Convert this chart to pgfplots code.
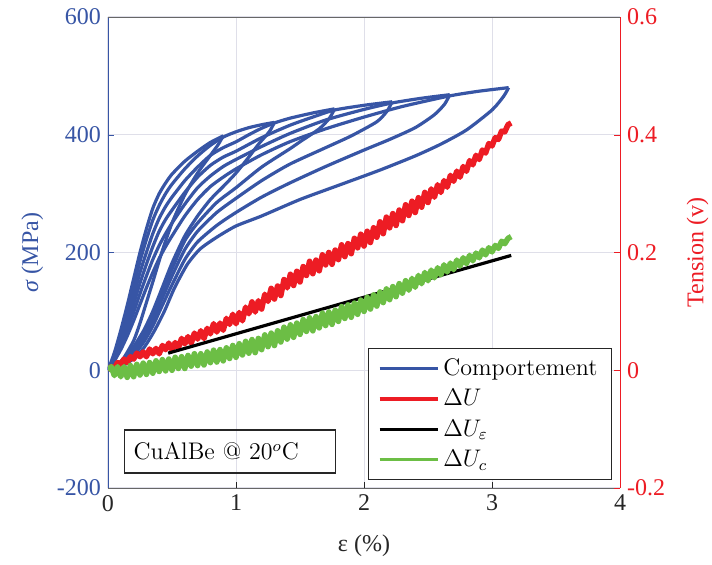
\documentclass[border=0pt]{standalone}
\usepackage{pgfplots}
\pgfplotsset{compat=1.18}
\usepackage{fontspec}
\newfontfamily\timesfont{Liberation Serif}
\definecolor{cblue}{RGB}{55,85,165}
\definecolor{cred}{RGB}{237,28,36}
\definecolor{cgreen}{RGB}{108,190,69}
\definecolor{cgrid}{RGB}{223,223,233}
\definecolor{cdark}{RGB}{38,38,38}

\begin{document}
\begin{tikzpicture}
\pgfplotsset{
  every axis/.append style={
    scale only axis, width=256pt, height=235.5pt,
    at={(0pt,0pt)}, anchor=south west,
    xmin=0, xmax=4,
    tick align=inside, major tick length=3pt,
    /pgf/number format/assume math mode=true,
    tick label style={font=\timesfont\fontsize{12}{14}\selectfont},
    label style={font=\timesfont\fontsize{12}{14}\selectfont},
  },
  loop/.style={cblue, no markers, line width=1.6pt, line join=round, smooth, tension=0.4},
  noisy/.style={no markers, line width=2.8pt, line join=round},
}
% stress-strain cycles (left axis)
\begin{axis}[
  axis x line*=bottom, axis y line*=left,
  ymin=-200, ymax=600, ytick={-200,0,200,400,600}, xtick={0,1,2,3,4},
  grid=major, major grid style={cgrid, line width=0.5pt},
  x axis line style={cdark!70}, y axis line style={cblue},
  xtick style={cdark}, ytick style={cblue},
  xticklabel style={text=cdark}, yticklabel style={text=cblue},
  xlabel={ε (\%)}, ylabel={\itshape σ\upshape\ (MPa)},
  xlabel style={text=cdark, yshift=-5pt}, ylabel style={text=cblue},
]
% cycle 1
\addplot[loop] coordinates {(0,0)(0.05,30)(0.1,68)(0.15,110)(0.2,155)(0.25,200)(0.3,240)(0.35,275)(0.4,300)(0.45,318)(0.5,333)(0.6,355)(0.7,372)(0.8,387)(0.9,398)};
\addplot[loop] coordinates {(0.9,398)(0.86,383)(0.8,365)(0.7,335)(0.6,298)(0.5,250)(0.42,200)(0.35,150)(0.3,115)(0.25,80)(0.2,50)(0.12,20)(0.05,5)};
% cycle 2
\addplot[loop] coordinates {(0,0)(0.05,25)(0.1,60)(0.15,100)(0.2,142)(0.25,185)(0.3,222)(0.35,255)(0.4,280)(0.45,300)(0.5,316)(0.6,342)(0.7,364)(0.8,382)(0.9,396)(1.0,405)(1.1,412)(1.2,417)(1.3,421)};
\addplot[loop] coordinates {(1.3,421)(1.26,405)(1.18,385)(1.1,362)(1.0,335)(0.9,312)(0.8,290)(0.7,262)(0.6,228)(0.5,182)(0.42,138)(0.35,100)(0.28,68)(0.2,40)(0.12,18)(0.05,4)};
% cycle 3
\addplot[loop] coordinates {(0,0)(0.05,22)(0.1,52)(0.15,88)(0.2,126)(0.25,166)(0.3,200)(0.35,232)(0.4,258)(0.45,278)(0.5,294)(0.6,322)(0.7,345)(0.8,365)(0.9,378)(1.0,388)(1.1,400)(1.2,411)(1.3,420)(1.42,428)(1.6,437)(1.77,444)};
\addplot[loop] coordinates {(1.77,444)(1.73,428)(1.65,410)(1.5,388)(1.42,376)(1.2,345)(1.0,310)(0.85,285)(0.7,250)(0.6,220)(0.5,172)(0.42,130)(0.35,92)(0.28,60)(0.2,34)(0.12,15)(0.05,3)};
% cycle 4
\addplot[loop] coordinates {(0,0)(0.05,20)(0.1,46)(0.15,78)(0.2,112)(0.25,148)(0.3,180)(0.35,210)(0.4,236)(0.45,256)(0.5,272)(0.6,302)(0.7,328)(0.8,348)(0.9,362)(1.0,372)(1.2,395)(1.42,416)(1.6,430)(1.77,442)(2.0,450)(2.22,456)};
\addplot[loop] coordinates {(2.22,456)(2.18,440)(2.1,422)(1.9,398)(1.7,378)(1.42,350)(1.2,322)(1.0,292)(0.85,268)(0.7,236)(0.6,205)(0.5,160)(0.42,120)(0.35,84)(0.28,55)(0.2,30)(0.12,13)(0.05,3)};
% cycle 5
\addplot[loop] coordinates {(0,0)(0.05,18)(0.1,40)(0.15,68)(0.2,98)(0.25,130)(0.3,160)(0.35,188)(0.4,212)(0.45,232)(0.5,250)(0.6,282)(0.7,310)(0.8,330)(0.9,346)(1.0,358)(1.2,380)(1.42,402)(1.7,425)(2.0,443)(2.22,454)(2.45,462)(2.67,468)};
\addplot[loop] coordinates {(2.67,468)(2.63,452)(2.55,434)(2.4,412)(2.2,392)(2.0,374)(1.7,346)(1.42,318)(1.2,294)(1.0,268)(0.85,246)(0.7,218)(0.6,188)(0.5,145)(0.42,108)(0.35,75)(0.28,48)(0.2,26)(0.12,11)(0.05,2)};
% cycle 6
\addplot[loop] coordinates {(0,0)(0.05,16)(0.1,35)(0.15,58)(0.2,84)(0.25,112)(0.3,140)(0.35,166)(0.4,190)(0.45,210)(0.5,228)(0.6,262)(0.7,290)(0.8,312)(0.9,328)(1.0,342)(1.2,366)(1.42,388)(1.7,410)(2.0,430)(2.3,448)(2.67,466)(2.9,474)(3.13,480)};
\addplot[loop] coordinates {(3.13,480)(3.09,465)(3.0,442)(2.8,408)(2.6,384)(2.4,364)(2.125,340)(1.8,314)(1.5,290)(1.2,262)(1.0,245)(0.85,226)(0.72,206)(0.62,180)(0.52,140)(0.44,100)(0.36,66)(0.28,38)(0.2,20)(0.12,8)(0.05,2)};
\end{axis}

% voltage signals (right axis)
\begin{axis}[
  axis x line*=top, axis y line*=right,
  xtick=\empty,
  ymin=-0.2, ymax=0.6, ytick={-0.2,0,0.2,0.4,0.6},
  x axis line style={cdark!70}, y axis line style={cred},
  ytick style={cred}, yticklabel style={text=cred},
  ylabel={Tension (v)}, ylabel style={text=cred, yshift=-4pt},
  legend style={at={(0.984,0.017)}, anchor=south east,
    font=\fontsize{12}{14}\selectfont, draw=cdark, fill=white,
    inner xsep=5pt, inner ysep=3pt, row sep=1.5pt},
  legend cell align=left,
  legend image code/.code={\draw[#1, line width=1.6pt] (0pt,0pt) -- (29pt,0pt);},
]
\addlegendimage{cblue}
\addlegendentry{Comportement}
\addplot[noisy, cred] coordinates {
(0.000,0.000)(0.025,0.006)(0.050,0.003)(0.075,0.013)(0.100,0.010)(0.125,0.019)(0.150,0.013)(0.175,0.023)
(0.200,0.019)(0.225,0.029)(0.250,0.023)(0.275,0.031)(0.300,0.023)(0.325,0.036)(0.350,0.028)(0.375,0.037)
(0.400,0.028)(0.425,0.042)(0.450,0.035)(0.475,0.046)(0.500,0.035)(0.525,0.047)(0.550,0.038)(0.575,0.054)
(0.600,0.045)(0.625,0.057)(0.650,0.046)(0.675,0.063)(0.700,0.053)(0.725,0.067)(0.750,0.054)(0.775,0.071)
(0.800,0.062)(0.825,0.079)(0.850,0.065)(0.875,0.080)(0.900,0.068)(0.925,0.088)(0.950,0.078)(0.975,0.095)
(1.000,0.079)(1.025,0.098)(1.050,0.084)(1.075,0.107)(1.100,0.096)(1.125,0.116)(1.150,0.099)(1.175,0.118)
(1.200,0.104)(1.225,0.129)(1.250,0.117)(1.275,0.139)(1.300,0.121)(1.325,0.143)(1.350,0.127)(1.375,0.154)
(1.400,0.140)(1.425,0.163)(1.450,0.144)(1.475,0.168)(1.500,0.150)(1.525,0.176)(1.550,0.161)(1.575,0.185)
(1.600,0.164)(1.625,0.187)(1.650,0.169)(1.675,0.196)(1.700,0.179)(1.725,0.200)(1.750,0.180)(1.775,0.204)
(1.800,0.188)(1.825,0.213)(1.850,0.193)(1.875,0.215)(1.900,0.198)(1.925,0.224)(1.950,0.208)(1.975,0.231)
(2.000,0.211)(2.025,0.236)(2.050,0.217)(2.075,0.242)(2.100,0.226)(2.125,0.252)(2.150,0.232)(2.175,0.260)
(2.200,0.242)(2.225,0.266)(2.250,0.246)(2.275,0.272)(2.300,0.254)(2.325,0.281)(2.350,0.263)(2.375,0.287)
(2.400,0.268)(2.425,0.293)(2.450,0.277)(2.475,0.302)(2.500,0.285)(2.525,0.308)(2.550,0.294)(2.575,0.315)
(2.600,0.302)(2.625,0.322)(2.650,0.311)(2.675,0.331)(2.700,0.321)(2.725,0.338)(2.750,0.328)(2.775,0.346)
(2.800,0.338)(2.825,0.356)(2.850,0.349)(2.875,0.365)(2.900,0.358)(2.925,0.374)(2.950,0.369)(2.975,0.385)
(3.000,0.381)(3.025,0.395)(3.050,0.392)(3.075,0.406)(3.100,0.405)(3.125,0.417)(3.150,0.420)};
\addlegendentry{$\Delta U$}
\addplot[black, no markers, line width=1.6pt] coordinates {(0.47,0.029)(1.5,0.093)(2.5,0.155)(3.15,0.195)};
\addlegendentry{$\Delta U_\varepsilon$}
\addplot[noisy, cgreen] coordinates {
(0.000,0.000)(0.025,0.006)(0.050,-0.009)(0.075,0.006)(0.100,-0.011)(0.125,0.006)(0.150,-0.012)(0.175,0.008)
(0.200,-0.011)(0.225,0.010)(0.250,-0.008)(0.275,0.012)(0.300,-0.007)(0.325,0.013)(0.350,-0.005)(0.375,0.016)
(0.400,-0.002)(0.425,0.018)(0.450,-0.001)(0.475,0.019)(0.500,0.000)(0.525,0.022)(0.550,0.003)(0.575,0.023)
(0.600,0.003)(0.625,0.025)(0.650,0.007)(0.675,0.028)(0.700,0.008)(0.725,0.028)(0.750,0.009)(0.775,0.031)
(0.800,0.013)(0.825,0.034)(0.850,0.014)(0.875,0.035)(0.900,0.016)(0.925,0.038)(0.950,0.020)(0.975,0.042)
(1.000,0.022)(1.025,0.045)(1.050,0.026)(1.075,0.049)(1.100,0.029)(1.125,0.052)(1.150,0.030)(1.175,0.054)
(1.200,0.035)(1.225,0.060)(1.250,0.040)(1.275,0.063)(1.300,0.042)(1.325,0.067)(1.350,0.048)(1.375,0.073)
(1.400,0.053)(1.425,0.077)(1.450,0.056)(1.475,0.080)(1.500,0.061)(1.525,0.086)(1.550,0.066)(1.575,0.089)
(1.600,0.067)(1.625,0.091)(1.650,0.072)(1.675,0.097)(1.700,0.076)(1.725,0.099)(1.750,0.078)(1.775,0.102)
(1.800,0.083)(1.825,0.108)(1.850,0.088)(1.875,0.111)(1.900,0.090)(1.925,0.114)(1.950,0.095)(1.975,0.119)
(2.000,0.100)(2.025,0.124)(2.050,0.104)(2.075,0.128)(2.100,0.109)(2.125,0.133)(2.150,0.115)(2.175,0.138)
(2.200,0.120)(2.225,0.142)(2.250,0.125)(2.275,0.147)(2.300,0.131)(2.325,0.152)(2.350,0.136)(2.375,0.156)
(2.400,0.141)(2.425,0.161)(2.450,0.147)(2.475,0.166)(2.500,0.152)(2.525,0.170)(2.550,0.157)(2.575,0.174)
(2.600,0.162)(2.625,0.179)(2.650,0.167)(2.675,0.182)(2.700,0.171)(2.725,0.187)(2.750,0.177)(2.775,0.191)
(2.800,0.181)(2.825,0.195)(2.850,0.186)(2.875,0.199)(2.900,0.191)(2.925,0.204)(2.950,0.196)(2.975,0.208)
(3.000,0.201)(3.025,0.212)(3.050,0.207)(3.075,0.219)(3.100,0.215)(3.125,0.224)(3.150,0.227)};
\addlegendentry{$\Delta U_c$}
\node[draw=cdark, line width=0.6pt, anchor=west, minimum height=21.5pt,
  text width=96.5pt, inner xsep=4.5pt, align=left,
  font=\fontsize{12}{14}\selectfont]
  at (rel axis cs:0.03125,0.0775) {CuAlBe @ 20$^o$C};
\end{axis}
\pgfresetboundingbox
\path (-54pt,-38.5pt) rectangle (302pt,244pt);
\end{tikzpicture}
\end{document}
